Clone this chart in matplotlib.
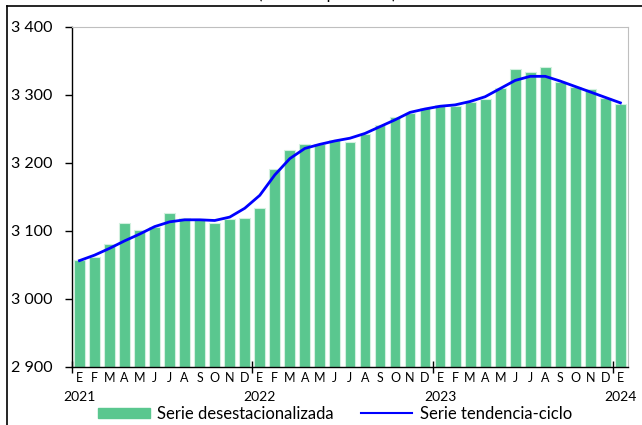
import numpy as np
import matplotlib.pyplot as plt
from matplotlib.lines import Line2D
from matplotlib.transforms import blended_transform_factory

plt.rcParams['font.family'] = ['Lato', 'DejaVu Sans']

months = ["E", "F", "M", "A", "M", "J", "J", "A", "S", "O", "N", "D"] * 3 + ["E"]
years = ["2021", "2022", "2023", "2024"]

# serie desestacionalizada, ene 2021 - ene 2024
desest = [3057, 3061, 3080, 3111, 3101, 3106, 3126, 3119, 3117, 3112, 3117, 3118,
          3133, 3191, 3218, 3227, 3228, 3234, 3231, 3242, 3255, 3267, 3273, 3280,
          3285, 3283, 3289, 3294, 3310, 3338, 3333, 3341, 3319, 3312, 3308, 3295,
          3287]
# serie tendencia-ciclo
tendencia = [3056, 3064, 3074, 3085, 3095, 3106, 3113, 3116, 3116, 3115, 3120, 3133,
             3152, 3182, 3206, 3221, 3227, 3232, 3236, 3243, 3253, 3263, 3274, 3279,
             3283, 3285, 3290, 3297, 3309, 3321, 3327, 3327, 3320, 3312, 3304, 3296,
             3288]

x = np.arange(len(desest))
green = '#5ac78f'

fig = plt.figure(figsize=(6.42, 4.25), dpi=100)
ax = fig.add_axes([0.1121, 0.1372, 0.8659, 0.80])

ax.bar(x, np.array(desest) - 2900, bottom=2900, width=0.72, color=green,
       edgecolor='#d2f0df', linewidth=0.8, zorder=2)
ax.plot(x, tendencia, color='#0000ff', lw=2, zorder=3)

ax.set_xlim(-0.5, len(x) - 0.5)
ax.set_ylim(2900, 3400)
yt = np.arange(2900, 3401, 100)
ax.set_yticks(yt)
ax.set_yticklabels([f"{v:,}".replace(",", " ") for v in yt], fontsize=11.5)
ax.tick_params(axis='y', direction='out', length=5, width=1, pad=9)

# year separators on x axis
ax.set_xticks([-0.5, 11.5, 23.5, 35.5])
ax.set_xticklabels([])
ax.tick_params(axis='x', direction='inout', length=9, width=1)

for s in ['top', 'right']:
    ax.spines[s].set_color('#bfbfbf')
for s in ['left', 'bottom']:
    ax.spines[s].set_color('black')
    ax.spines[s].set_linewidth(1)

tr = blended_transform_factory(ax.transData, ax.transAxes)
for i, m in enumerate(months):
    ax.text(i, -0.034, m, transform=tr, ha='center', va='center', fontsize=9)
for i, yr in zip([0, 12, 24, 36], years):
    ax.text(i, -0.088, yr, transform=tr, ha='center', va='center', fontsize=10)

# titulo recortado arriba
fig.text(0.51, 1.002, "(miles de personas)", ha='center', va='baseline', fontsize=12)

# marco de la figura
fig.add_artist(Line2D([7 / 642, 7 / 642], [0, 1 - 6 / 425], color='black', lw=1.2,
                      transform=fig.transFigure))
fig.add_artist(Line2D([7 / 642, 1], [1 - 6 / 425, 1 - 6 / 425], color='black', lw=1.2,
                      transform=fig.transFigure))

handles = [plt.Rectangle((0, 0), 1, 1, color=green),
           Line2D([], [], color='#0000ff', lw=1.5)]
fig.legend(handles, ["Serie desestacionalizada", "Serie tendencia-ciclo"],
           loc='center', bbox_to_anchor=(0.522, 0.026), ncol=2, frameon=False,
           fontsize=12, handlelength=3.1, handleheight=0.6, columnspacing=1.6,
           handletextpad=0.45, borderpad=0)

fig.savefig('out.png', dpi=100)
